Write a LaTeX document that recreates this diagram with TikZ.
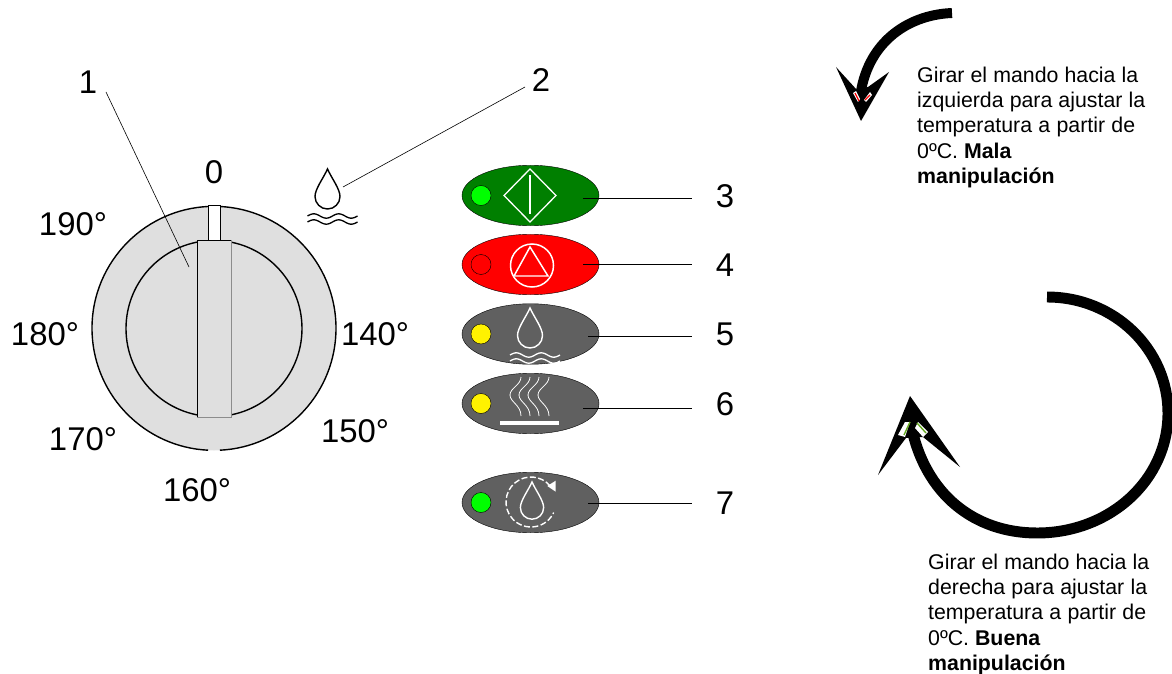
\documentclass[tikz,border=0pt]{standalone}
\usepackage{fontspec}
\setmainfont{Liberation Sans}
\usetikzlibrary{shapes.geometric}

\definecolor{dialgray}{HTML}{DFDFDF}
\definecolor{btngreen}{HTML}{007F00}
\definecolor{btngray}{HTML}{606060}
\definecolor{ledgreen}{HTML}{00FF00}
\definecolor{tipgreen}{HTML}{66AA22}

\newcommand{\fitline}[2]{\makebox[#1bp][s]{#2}}

\begin{document}
\begin{tikzpicture}[x=1bp, y=1bp]

\def \gap {2.8}

\tikzset{numlabel/.style = {font=\fontsize{33}{33}\selectfont, inner sep=0pt}}
\tikzset{button/.style = {draw, ellipse, inner sep=0pt, minimum width=137bp, minimum height=60.5bp}}
\tikzset{led/.style = {draw, circle, inner sep=0pt, minimum size=20bp}}
\tikzset{leader/.style = {draw, line width=0.6pt}}
\tikzset{note/.style = {font=\fontsize{21.4}{25.4}\selectfont, align=left, anchor=north west, inner sep=0pt}}
\tikzset{drop/.pic = {\draw (0,0) .. controls (-4,-9) and (-12.5,-20) .. (-12.5,-27.5) arc[start angle=180, end angle=360, radius=12.5] .. controls (12.5,-20) and (4,-9) .. (0,0) -- cycle;}}
\tikzset{waves/.pic = {\foreach \w in {47,53} {\draw plot[smooth, domain=0:50, samples=30] ({-20+\x}, {-\w+2.2*sin(\x*14.4)});}}}

\useasboundingbox (0,0) rectangle (1172,-674);

\fill[dialgray] (214,-328.5) circle (122);
\draw[line width=1.4pt] (214,-206.5) ++(-\gap*2.13,0) arc[start angle=90+\gap, end angle=270-\gap, radius=122];
\draw[line width=1.4pt] (214,-206.5) ++(\gap*2.13,0) arc[start angle=90-\gap, end angle=-90+\gap, radius=122];
\draw[line width=1.4pt] (214,-328.5) circle (88);
\draw[fill=white] (208,-205) rectangle (220,-240);
\node[draw=black!45, fill=dialgray, minimum width=34bp, minimum height=177bp, inner sep=0pt] (knob) at (214,-328.5) {};
\draw (knob.south west) -- (knob.north west) -- (knob.north east);

\node[numlabel] (zero) at (214,-172) {0};
\node[numlabel] (t190) at (73,-224) {190°};
\node[numlabel] (t180) at (45,-334) {180°};
\node[numlabel] (t170) at (83,-439) {170°};
\node[numlabel] (t160) at (197,-490) {160°};
\node[numlabel] (t150) at (355,-431) {150°};
\node[numlabel] (t140) at (375,-334) {140°};

\node[numlabel] (num1) at (88,-82) {1};
\node[numlabel] (num2) at (541,-80) {2};
\coordinate (from1) at (106,-92);
\coordinate (to1) at (189,-267);
\coordinate (from2) at (525,-87);
\coordinate (to2) at (343,-187);
\draw[leader] (from1) -- (to1);
\draw[leader] (from2) -- (to2);

\pic[line width=1.4pt] at (327.5,-169) {drop};
\pic[line width=1.3pt] at (327.5,-169) {waves};

\foreach \i/\yb/\body/\lamp/\yl/\xl in {3/195.5/btngreen/ledgreen/198/583, 4/264.5/red/red/264/583, 5/334/btngray/yellow/336/588, 6/403.5/btngray/yellow/408/583, 7/502.5/btngray/ledgreen/503/588}
{
	\node[button, fill=\body] (btn\i) at (530.5,-\yb) {};
	\node[led, fill=\lamp] (led\i) at (481,-\yb) {};
	\node[numlabel] (num\i) at (725,-\yb-0.5) {\i};
	\coordinate (from\i) at (\xl,-\yl);
	\coordinate (to\i) at (692,-\yl);
	\draw[leader] (from\i) -- (to\i);
}

\draw[white, line width=1.3pt] (504,-195.5) -- (530,-169) -- (556,-195.5) -- (530,-222) -- cycle;
\draw[white, line width=1.6pt] (530,-175) -- (530,-214);

\draw[white, line width=1.5pt] (532,-265.5) circle (21.5);
\draw[white, line width=1.5pt] (530,-247) -- (514,-276) -- (548,-276) -- cycle;

\pic[white, line width=1.4pt] at (530,-308) {drop};
\pic[white, line width=1.3pt] at (530,-308) {waves};

\foreach \xh in {521,530,539,549}
{
	\draw[white, line width=0.8pt] (\xh,-377) .. controls (\xh,-385) and (\xh-11,-388) .. (\xh-11,-395) .. controls (\xh-11,-402) and (\xh,-405) .. (\xh,-416);
}
\fill[white] (500,-421) rectangle (559,-425);

\pic[white, line width=1.4pt, scale=0.93] at (532,-482) {drop};
\draw[white, line width=1.4pt, dash pattern=on 6pt off 2.5pt] (531,-502) ++(40:25) arc[start angle=40, end angle=335, radius=25];
\fill[white] (555.7,-480.7) -- (555.7,-491.7) -- (547.3,-486) -- cycle;

\draw[line width=10pt] (952,-13) .. controls (905,-15) and (866,-45) .. (860,-98);
\fill (861,-121) -- (889,-72) -- (868,-87) -- (857,-90) -- (836,-67) -- cycle;
\fill[white] (853,-93) -- (856,-91) -- (860,-99) -- (858,-102) -- cycle;
\fill[white] (870,-92) -- (872,-95) -- (866,-102) -- (864,-100) -- cycle;
\draw[red, line width=1.2pt] (855,-93) -- (859,-101);
\draw[red, line width=1.2pt] (870,-95) -- (865,-100);

\draw[line width=11pt] (1047,-297) .. controls (1115,-297) and (1168,-350) .. (1168,-413) .. controls (1168,-480) and (1110,-533) .. (1037,-533) .. controls (975,-533) and (925,-495) .. (911,-425);
\fill (910,-396) -- (960,-467) -- (923,-437) -- (906,-438) -- (878,-475) -- cycle;
\fill[white] (898,-435) -- (905,-437) -- (910,-422) -- (905,-422) -- cycle;
\fill[white] (918,-422) -- (928,-432) -- (923,-437) -- (915,-428) -- cycle;
\draw[tipgreen, line width=1.4pt] (904,-435) -- (910,-422);
\draw[tipgreen, line width=1.4pt] (917,-423) -- (926,-433);

\node[note] (noteleft) at (917,-66.5) {\fitline{221}{Girar el mando hacia la}\\ \fitline{228}{izquierda para ajustar la}\\ \fitline{218}{temperatura a partir de}\\ 0ºC. \textbf{Mala}\\ \textbf{manipulación}};
\node[note] (noteright) at (928,-553.5) {\fitline{221}{Girar el mando hacia la}\\ \fitline{219}{derecha para ajustar la}\\ \fitline{218}{temperatura a partir de}\\ 0ºC. \textbf{Buena}\\ \textbf{manipulación}};

\end{tikzpicture}
\end{document}
